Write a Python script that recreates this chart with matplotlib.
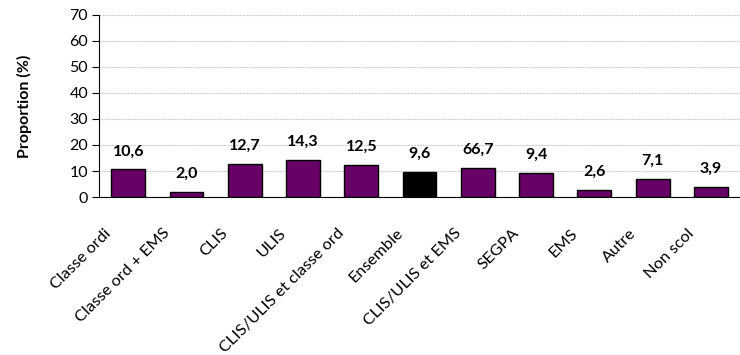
import matplotlib
matplotlib.use("Agg")
import matplotlib.pyplot as plt
from matplotlib.transforms import ScaledTranslation

# Catégories et valeurs
categories = ["Classe ordi", "Classe ord + EMS", "CLIS", "ULIS",
              "CLIS/ULIS et classe ord", "Ensemble", "CLIS/ULIS et EMS",
              "SEGPA", "EMS", "Autre", "Non scol"]
heights = [10.6, 2.0, 12.7, 14.3, 12.5, 9.6, 11.3, 9.4, 2.6, 7.1, 3.9]
labels = ["10,6", "2,0", "12,7", "14,3", "12,5", "9,6", "66,7",
          "9,4", "2,6", "7,1", "3,9"]
colors = ["#660066"] * 5 + ["#000000"] + ["#660066"] * 5

plt.rcParams['font.family'] = ['Lato', 'DejaVu Sans']

fig = plt.figure(figsize=(7.4, 3.55), dpi=100)
ax = fig.add_axes([0.134, 0.445, 0.866, 0.513])

x = range(len(categories))
ax.bar(x, heights, width=0.58, color=colors, edgecolor="black", linewidth=1.0, zorder=3)

# étiquettes au-dessus des barres
for i, (h, lab) in enumerate(zip(heights, labels)):
    ax.annotate(lab, (i, h), xytext=(0, 13), textcoords="offset points",
                ha="center", va="center", fontsize=11.5, fontweight="bold")

ax.set_xlim(-0.5, len(categories) - 0.5)
ax.set_ylim(0, 70)
ax.set_yticks(range(0, 71, 10))
ax.set_xticks(list(x))
ax.set_xticklabels(categories, rotation=45, ha="right", va="top", fontsize=11.8)
ax.tick_params(axis="x", length=0, pad=21)
ax.tick_params(axis="y", labelsize=11.5, length=5, pad=3)
shift = ScaledTranslation(-14 / 100, 0, fig.dpi_scale_trans)
for t in ax.get_xticklabels():
    t.set_transform(t.get_transform() + shift)

ax.set_ylabel("Proportion (%)", fontsize=11.5, fontweight="bold")
ax.yaxis.set_label_coords(-0.105, 0.5)

ax.grid(axis="y", color="#cfcfcf", linewidth=0.8, linestyle=(0, (2, 0.8)), zorder=0)
ax.spines["top"].set_visible(False)
ax.spines["right"].set_visible(False)

fig.savefig("out.png", dpi=100)
